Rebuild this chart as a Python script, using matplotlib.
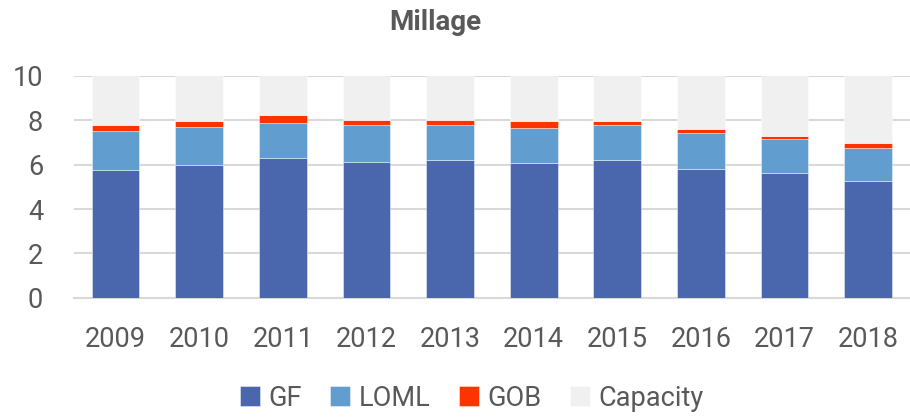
import numpy as np
from matplotlib import pyplot as plt

plt.rcParams['font.family'] = ['Roboto', 'DejaVu Sans']

years = ['2009', '2010', '2011', '2012', '2013', '2014', '2015', '2016', '2017', '2018']
gf = [5.78, 5.99, 6.32, 6.14, 6.20, 6.08, 6.20, 5.81, 5.63, 5.26]
loml = [1.74, 1.70, 1.55, 1.64, 1.58, 1.56, 1.58, 1.61, 1.52, 1.51]
gob = [0.26, 0.28, 0.37, 0.21, 0.21, 0.32, 0.18, 0.18, 0.16, 0.20]
total = 10.0

capacity = [total - a - b - c for a, b, c in zip(gf, loml, gob)]

text_col = '#595959'
colors = ['#4a67ad', '#619ecf', '#ff3300', '#f0f0f0']
names = ['GF', 'LOML', 'GOB', 'Capacity']

fig = plt.figure(figsize=(9.1, 4.17), dpi=100)
ax = fig.add_axes([0.081, 0.286, 0.919, 0.532])

x = np.arange(len(years))
bottom = np.zeros(len(years))
for vals, col, name in zip([gf, loml, gob, capacity], colors, names):
    ax.bar(x, vals, 0.57, bottom=bottom, color=col, label=name,
           edgecolor=(1, 1, 1, 0.5), linewidth=0.6, zorder=3)
    bottom += np.array(vals)

ax.set_xlim(-0.5, len(years) - 0.5)
ax.set_ylim(0, 10)
ax.set_yticks([0, 2, 4, 6, 8, 10])
ax.set_xticks(x)
ax.set_xticklabels(years)
ax.yaxis.grid(True, color='#d9d9d9', linewidth=1.5, zorder=0)
for s in ['top', 'right', 'left']:
    ax.spines[s].set_visible(False)
ax.spines['bottom'].set_color('#d9d9d9')
ax.spines['bottom'].set_linewidth(1.5)
ax.tick_params(axis='both', length=0, labelsize=19.5, colors=text_col)
ax.tick_params(axis='x', pad=20)
ax.tick_params(axis='y', pad=22)

fig.text(0.478, 0.947, 'Millage', ha='center', va='center', fontsize=20,
         fontweight='bold', color=text_col)

leg = fig.legend(loc='center', bbox_to_anchor=(0.518, 0.045), ncol=4, frameon=False,
                 fontsize=19.5, handlelength=0.75, handleheight=0.75, handletextpad=0.3,
                 columnspacing=1.05, labelcolor=text_col)

plt.savefig('out.png')
